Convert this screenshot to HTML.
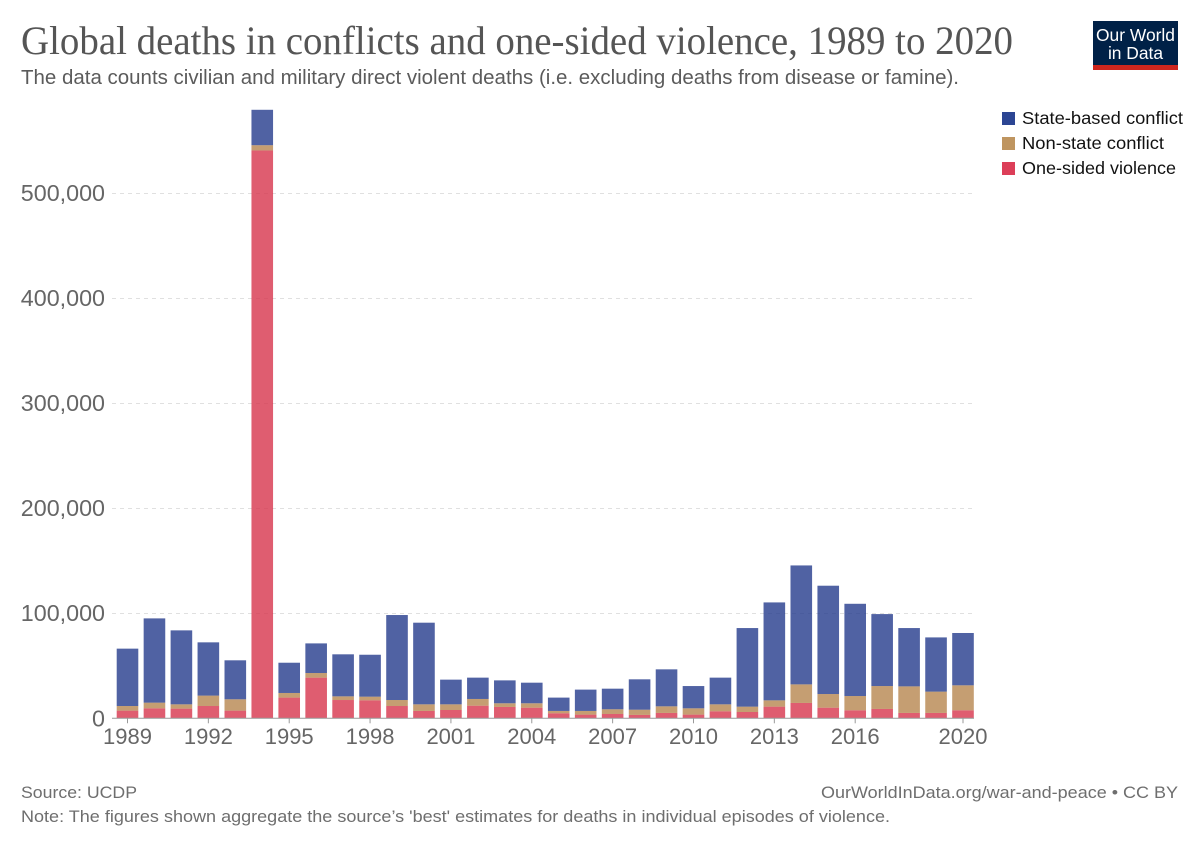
<!DOCTYPE html>
<html>
<head>
<meta charset="utf-8">
<title>Global deaths in conflicts and one-sided violence, 1989 to 2020</title>
<style>
html,body{margin:0;padding:0;background:#fff;width:1200px;height:847px;overflow:hidden}
svg{display:block;font-family:"Liberation Sans",Arial,sans-serif}
</style>
</head>
<body>
<svg id="chart" xmlns="http://www.w3.org/2000/svg" width="1200" height="847" viewBox="0 0 1200 847">
  <rect x="0" y="0" width="1200" height="847" fill="#fff"/>
  <text x="21" y="54" font-family="'Liberation Serif',serif" font-size="40" fill="#555" textLength="992" lengthAdjust="spacingAndGlyphs">Global deaths in conflicts and one-sided violence, 1989 to 2020</text>
  <text x="21" y="84" font-size="20" fill="#5b5b5b" textLength="938" lengthAdjust="spacingAndGlyphs">The data counts civilian and military direct violent deaths (i.e. excluding deaths from disease or famine).</text>

  <g>
    <rect x="1093" y="21" width="85" height="44" fill="#002147"/>
    <rect x="1093" y="65" width="85" height="5" fill="#ce261e"/>
    <text x="1135.5" y="41" font-size="17.4" fill="#fff" text-anchor="middle">Our World</text>
    <text x="1135.5" y="59" font-size="17.4" fill="#fff" text-anchor="middle">in Data</text>
  </g>

  <g id="grid"></g>
  <g id="bars"></g>
  <g id="axes"></g>

  <g>
    <g>
      <rect x="1002" y="112" width="13" height="13" fill="#2c4593"/>
      <text x="1022" y="124" font-size="17.6" fill="#111" textLength="161" lengthAdjust="spacingAndGlyphs">State-based conflict</text>
    </g>
    <g>
      <rect x="1002" y="137" width="13" height="13" fill="#bf9560"/>
      <text x="1022" y="149" font-size="17.6" fill="#111" textLength="142" lengthAdjust="spacingAndGlyphs">Non-state conflict</text>
    </g>
    <g>
      <rect x="1002" y="162" width="13" height="13" fill="#dc3e58"/>
      <text x="1022" y="174" font-size="17.6" fill="#111" textLength="154" lengthAdjust="spacingAndGlyphs">One-sided violence</text>
    </g>
  </g>

  <text x="21" y="798" font-size="17" fill="#6e6e6e" textLength="116" lengthAdjust="spacingAndGlyphs">Source: UCDP</text>
  <text x="821" y="798" font-size="17" fill="#6e6e6e" textLength="357" lengthAdjust="spacingAndGlyphs">OurWorldInData.org/war-and-peace • CC BY</text>
  <text x="21" y="822" font-size="17" fill="#6e6e6e" textLength="869" lengthAdjust="spacingAndGlyphs">Note: The figures shown aggregate the source’s 'best' estimates for deaths in individual episodes of violence.</text>
</svg>

<script>
// Chart data (deaths)
const years = [1989,1990,1991,1992,1993,1994,1995,1996,1997,1998,1999,2000,2001,2002,2003,2004,2005,2006,2007,2008,2009,2010,2011,2012,2013,2014,2015,2016,2017,2018,2019,2020];
const oneSided = [7300,9500,9200,11700,7300,540500,19700,38700,17400,17100,11700,7000,7900,12000,10800,10100,4800,3500,4100,3200,5100,3500,6700,6000,11100,14600,10100,7600,8900,5100,5100,7600];
const nonState = [4400,5400,4100,9900,10800,5000,4400,4400,3500,3500,5700,6300,5400,6400,3500,4200,2200,3500,4500,5000,6300,6000,6600,5100,6000,17700,13000,13600,21800,25300,20300,23800];
const stateBased = [54600,80200,70400,50700,37100,33700,28800,28200,40000,39900,80900,77700,23500,20300,21800,19600,12700,20300,19600,28900,35200,21200,25400,74800,93200,113200,103100,87800,68500,55500,51600,49800];
const yTicks = [0,100000,200000,300000,400000,500000];
const xTickYears = [1989,1992,1995,1998,2001,2004,2007,2010,2013,2016,2020];

const NS = 'http://www.w3.org/2000/svg';
const plotLeft = 112, plotRight = 974, baseY = 718.3, topY = 193, topVal = 500000;
const firstCx = 127.5, lastCx = 963, barW = 21.6;

function yScale(v){ return baseY - (v / topVal) * (baseY - topY); }
function xScale(year){
  return firstCx + (year - years[0]) / (years[years.length-1] - years[0]) * (lastCx - firstCx);
}
function make(tag, attrs, parent){
  const el = document.createElementNS(NS, tag);
  for (const k in attrs) el.setAttribute(k, attrs[k]);
  parent.appendChild(el);
  return el;
}

const grid = document.getElementById('grid');
const barsG = document.getElementById('bars');
const axes = document.getElementById('axes');

yTicks.forEach(function(t){
  if (t > 0) {
    const gy = Math.round(yScale(t)) + 0.5;
    const line = make('line', {x1:plotLeft, x2:plotRight, y1:gy, y2:gy, stroke:'#e0e0e0', 'stroke-width':1, 'stroke-dasharray':'4 4'}, grid);
    
    
  }
  const label = make('text', {x:105, y:yScale(t)+8, 'text-anchor':'end', 'font-size':23.3, fill:'#666'}, axes);
  
  
  label.textContent = t.toLocaleString('en-US');
});

function drawSegment(year, from, amount, color, name){
  const yTop = yScale(from + amount);
  const yBottom = yScale(from);
  const rect = make('rect', {x:xScale(year)-barW/2, y:yTop, width:barW, height:yBottom-yTop, fill:color, 'fill-opacity':0.8}, barsG);
  
  
}

years.forEach(function(year, i){
  drawSegment(year, 0, oneSided[i], '#d7344c', 'bar-one-sided');
  drawSegment(year, oneSided[i], nonState[i], '#b6864f', 'bar-non-state');
  drawSegment(year, oneSided[i] + nonState[i], stateBased[i], '#243b8c', 'bar-state-based');
});

const axisLine = make('line', {x1:plotLeft, x2:plotRight, y1:baseY, y2:baseY, stroke:'#999', 'stroke-width':1}, axes);



xTickYears.forEach(function(year){
  const tick = make('line', {x1:xScale(year), x2:xScale(year), y1:baseY, y2:baseY+5, stroke:'#999', 'stroke-width':1}, axes);
  
  
  const label = make('text', {x:xScale(year), y:744, 'text-anchor':'middle', 'font-size':22, fill:'#666'}, axes);
  
  
  label.textContent = year;
});
</script>
</body>
</html>
